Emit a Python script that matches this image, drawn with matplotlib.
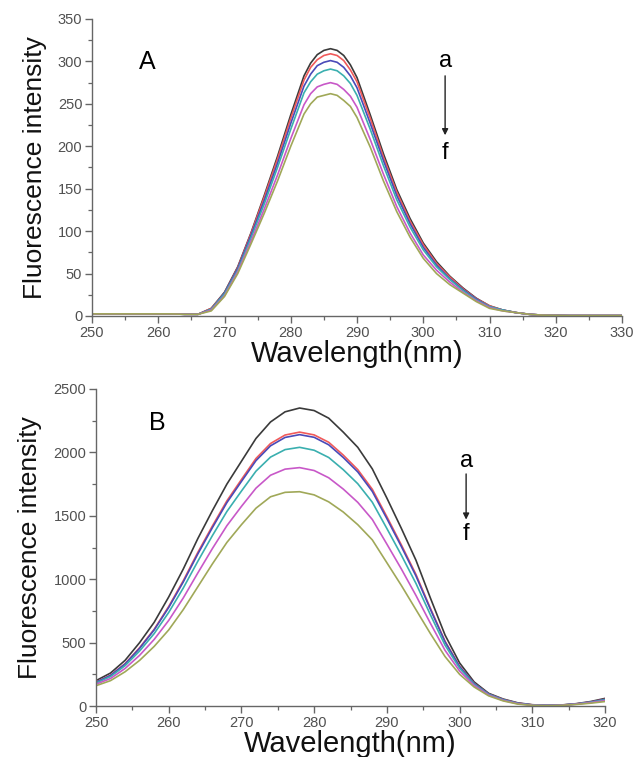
import matplotlib
matplotlib.use("Agg")
import matplotlib.pyplot as plt
from matplotlib.ticker import MultipleLocator

plt.rcParams['font.family'] = ['Liberation Sans', 'DejaVu Sans']

# ---------------- Panel A data ----------------
wl_A = [250, 254, 258, 262, 264, 266, 268, 270, 272, 274, 276, 278, 280, 282, 283, 284,
        285, 286, 287, 288, 289, 290, 292, 294, 296, 298, 300, 302, 304, 306, 308, 310,
        312, 314, 316, 318, 322, 326, 330]
A_a = [2.5, 2.5, 2.5, 2.5, 2, 2, 9, 28, 58, 98, 142, 188, 237, 283, 298, 308,
       313, 315, 313, 307, 296, 281, 237, 191, 149, 115, 86, 64, 47, 33, 21, 12,
       7, 4, 2, 1, 0.5, 0.5, 0.5]
A_b = [2.5, 2.5, 2.5, 2.5, 2, 2, 9, 27, 57, 97, 140, 185, 233, 278, 293, 302,
       307, 309, 307, 301, 290, 276, 233, 187, 146, 112, 84, 62, 46, 32, 20.5, 12,
       7, 4, 2, 1, 0.5, 0.5, 0.5]
A_c = [2.5, 2.5, 2.5, 2.5, 2, 2, 8, 27, 56, 95, 136, 180, 227, 271, 285, 295,
       299, 301, 299, 293, 283, 269, 227, 183, 142, 109, 81, 60, 44, 31, 20, 11,
       7, 4, 2, 1, 0.5, 0.5, 0.5]
A_d = [2.5, 2.5, 2.5, 2.5, 2, 2, 8, 26, 54, 92, 132, 175, 220, 263, 276, 285,
       289, 291, 289, 283, 274, 260, 220, 177, 137, 105, 78, 58, 43, 30, 19, 11,
       7, 4, 2, 1, 0.5, 0.5, 0.5]
A_e = [2.5, 2.5, 2.5, 2.5, 2, 2, 7, 24, 52, 88, 126, 166, 209, 249, 262, 270,
       273, 275, 273, 267, 259, 246, 208, 167, 129, 98, 72, 54, 40, 28, 18, 10,
       6, 4, 2, 1, 0.5, 0.5, 0.5]
A_f = [2.5, 2.5, 2.5, 2.5, 2, 2, 6, 23, 50, 85, 121, 159, 200, 238, 250, 258,
       260, 262, 260, 254, 247, 234, 199, 159, 123, 93, 68, 50, 37, 27, 17, 9,
       6, 4, 2, 1, 0.5, 0.5, 0.5]

# ---------------- Panel B data ----------------
wl_B = [250, 252, 254, 256, 258, 260, 262, 264, 266, 268, 270, 272, 274, 276, 278, 280,
        282, 284, 286, 288, 290, 292, 294, 296, 298, 300, 302, 304, 306, 308, 310, 312,
        314, 316, 318, 320]
B_a = [200, 260, 360, 500, 660, 860, 1080, 1320, 1540, 1750, 1930, 2110, 2240, 2320, 2350, 2330,
       2270, 2160, 2040, 1870, 1640, 1400, 1150, 850, 560, 340, 190, 100, 55, 25, 10, 5,
       8, 18, 35, 60]
B_b = [188, 243, 334, 460, 605, 785, 988, 1211, 1419, 1618, 1786, 1952, 2070, 2137, 2160, 2138,
       2080, 1979, 1864, 1709, 1493, 1270, 1038, 769, 511, 314, 178, 94, 51, 22, 9, 4,
       7, 16, 31, 53]
B_c = [187, 241, 331, 455, 600, 777, 978, 1199, 1406, 1604, 1771, 1935, 2052, 2118, 2140, 2119,
       2060, 1960, 1846, 1692, 1478, 1257, 1026, 761, 506, 311, 177, 94, 50, 22, 8, 4,
       7, 16, 31, 52]
B_d = [181, 232, 318, 434, 571, 738, 930, 1141, 1343, 1534, 1695, 1852, 1963, 2022, 2040, 2017,
       1960, 1864, 1753, 1607, 1400, 1189, 967, 718, 480, 298, 171, 91, 48, 20, 8, 4,
       7, 15, 29, 48]
B_e = [172, 217, 296, 400, 525, 675, 852, 1049, 1241, 1422, 1574, 1718, 1820, 1868, 1880, 1857,
       1800, 1711, 1606, 1471, 1277, 1080, 872, 651, 439, 276, 162, 86, 44, 18, 6, 3,
       6, 14, 26, 42]
B_f = [160, 200, 270, 360, 470, 600, 760, 940, 1120, 1290, 1430, 1560, 1650, 1685, 1690, 1665,
       1610, 1530, 1430, 1310, 1130, 950, 760, 570, 390, 250, 150, 80, 40, 15, 5, 2,
       5, 12, 22, 35]

colors = ['#3a3a3a', '#f05a5a', '#4a4ab8', '#3aafaf', '#c858c8', '#a0a858']

fig = plt.figure(figsize=(6.36, 7.57), dpi=100)

axA = fig.add_axes([92/636, 1-316/757, 530/636, 297/757])
axB = fig.add_axes([96/636, 1-706/757, 509/636, 317/757])

def style(ax, xlim, ylim, xmaj, xmin, ymaj, ymin):
    ax.set_xlim(*xlim)
    ax.set_ylim(*ylim)
    ax.xaxis.set_major_locator(MultipleLocator(xmaj))
    ax.xaxis.set_minor_locator(MultipleLocator(xmin))
    ax.yaxis.set_major_locator(MultipleLocator(ymaj))
    ax.yaxis.set_minor_locator(MultipleLocator(ymin))
    for s in ['top', 'right']:
        ax.spines[s].set_visible(False)
    for s in ['left', 'bottom']:
        ax.spines[s].set_color('#666666')
        ax.spines[s].set_linewidth(1.0)
    ax.tick_params(which='major', direction='out', length=5, width=1.0,
                   color='#666666', labelsize=10.5, labelcolor='#505050', pad=2)
    ax.tick_params(which='minor', direction='out', length=3, width=0.9,
                   color='#666666')
    ax.set_xlabel('Wavelength(nm)', fontsize=21, labelpad=0, color='#111111')
    ax.set_ylabel('Fluorescence intensity', fontsize=19, labelpad=8, color='#111111')

seriesA = [A_a, A_b, A_c, A_d, A_e, A_f]
for ys, c in zip(seriesA, colors):
    axA.plot(wl_A, ys, color=c, lw=1.2)
style(axA, (250, 330), (0, 350), 10, 5, 50, 25)
axA.text(258.3, 299, 'A', fontsize=18, ha='center', va='center')
axA.text(303.3, 301, 'a', fontsize=17, ha='center', va='center')
axA.text(303.3, 192, 'f', fontsize=17, ha='center', va='center')
axA.annotate('', xy=(303.3, 213), xytext=(303.3, 283),
             arrowprops=dict(arrowstyle='-|>', color='#222222', lw=1.0,
                             mutation_scale=9, shrinkA=0, shrinkB=0))

seriesB = [B_a, B_b, B_c, B_d, B_e, B_f]
for ys, c in zip(seriesB, colors):
    axB.plot(wl_B, ys, color=c, lw=1.2)
style(axB, (250, 320), (0, 2500), 10, 5, 500, 250)
axB.text(258.4, 2230, 'B', fontsize=18, ha='center', va='center')
axB.text(300.9, 1930, 'a', fontsize=17, ha='center', va='center')
axB.text(300.9, 1360, 'f', fontsize=17, ha='center', va='center')
axB.annotate('', xy=(300.9, 1470), xytext=(300.9, 1830),
             arrowprops=dict(arrowstyle='-|>', color='#222222', lw=1.0,
                             mutation_scale=9, shrinkA=0, shrinkB=0))

fig.savefig('out.png', dpi=100)
